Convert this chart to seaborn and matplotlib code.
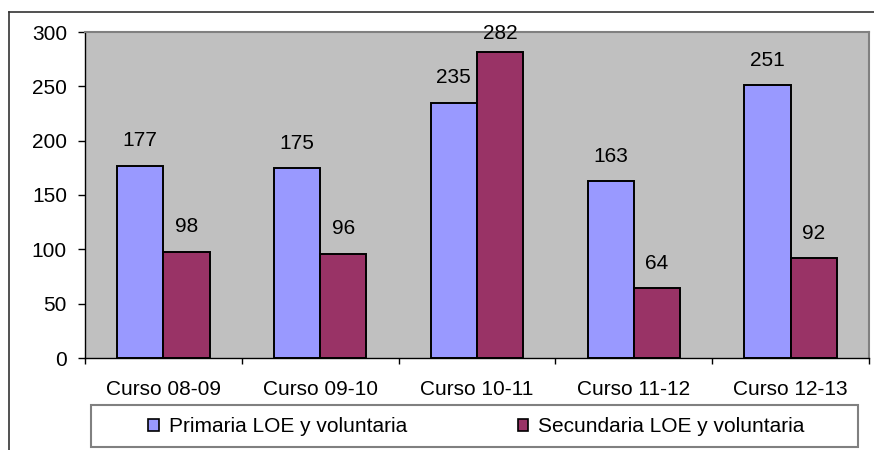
import pandas as pd
import matplotlib
matplotlib.use("Agg")
import matplotlib.pyplot as plt
import seaborn as sns
from matplotlib.patches import Patch, Rectangle
from matplotlib.lines import Line2D

cursos = ['Curso 08-09', 'Curso 09-10', 'Curso 10-11', 'Curso 11-12', 'Curso 12-13']
primaria = [177, 175, 235, 163, 251]
secundaria = [98, 96, 282, 64, 92]
series = ['Primaria LOE y voluntaria', 'Secundaria LOE y voluntaria']
colores = ['#9999FF', '#993366']

df = pd.DataFrame({
    'Curso': cursos * 2,
    'Alumnos': primaria + secundaria,
    'Tipo': [series[0]] * len(cursos) + [series[1]] * len(cursos),
})

plt.rcParams['font.family'] = ['Liberation Sans', 'DejaVu Sans']
W, H = 874, 450
fig = plt.figure(figsize=(W / 100, H / 100), dpi=100)
ax = fig.add_axes([85 / W, 1 - 358 / H, (869 - 85) / W, (358 - 32) / H])

sns.barplot(data=df, x='Curso', y='Alumnos', hue='Tipo', palette=colores,
            width=0.59, saturation=1, edgecolor='black', linewidth=1.4,
            legend=False, ax=ax)

ax.set_facecolor('#C0C0C0')
ax.set_xlim(-0.5, len(cursos) - 0.5)
ax.set_ylim(0, 300)
ax.set_yticks(range(0, 301, 50))
ax.set_xlabel('')
ax.set_ylabel('')

# etiquetas de datos encima de cada barra
for cont in ax.containers:
    for bar in cont:
        h = bar.get_height()
        off = 11 if h < 270 else 6
        ax.annotate(f'{h:.0f}', (bar.get_x() + bar.get_width() / 2, h),
                    xytext=(0, off), textcoords='offset points',
                    ha='center', va='bottom', fontsize=15, clip_on=False)

ax.tick_params(axis='y', length=5, width=1, pad=8, labelsize=15)
ax.tick_params(axis='x', which='major', length=0, pad=16, labelsize=15)
ax.set_xticks([i - 0.5 for i in range(len(cursos) + 1)], minor=True)
ax.tick_params(axis='x', which='minor', length=4, width=1)

for s in ['left', 'bottom']:
    ax.spines[s].set_color('black')
    ax.spines[s].set_linewidth(1)
for s in ['top', 'right']:
    ax.spines[s].set_color('#808080')
    ax.spines[s].set_linewidth(1.5)

handles = [Patch(facecolor=c, edgecolor='black', linewidth=1.2, label=s)
           for c, s in zip(colores, series)]
fig.legend(handles=handles, loc='center', bbox_to_anchor=(476.5 / W, 1 - 426.5 / H),
           ncol=2, frameon=False, fontsize=15, handlelength=0.5, handleheight=0.5,
           handletextpad=0.5, columnspacing=5.3)
fig.add_artist(Rectangle((91 / W, 1 - 447 / H), (858 - 91) / W, (447 - 405) / H,
                         transform=fig.transFigure, fill=False,
                         edgecolor='#808080', linewidth=1.5))

# marco exterior del gráfico
fig.add_artist(Line2D([9 / W, 1], [1 - 12 / H] * 2, transform=fig.transFigure,
                      color='#333333', linewidth=1.2))
fig.add_artist(Line2D([9 / W] * 2, [1 - 12 / H, 0], transform=fig.transFigure,
                      color='#333333', linewidth=1.2))

fig.savefig('out.png', dpi=100)
